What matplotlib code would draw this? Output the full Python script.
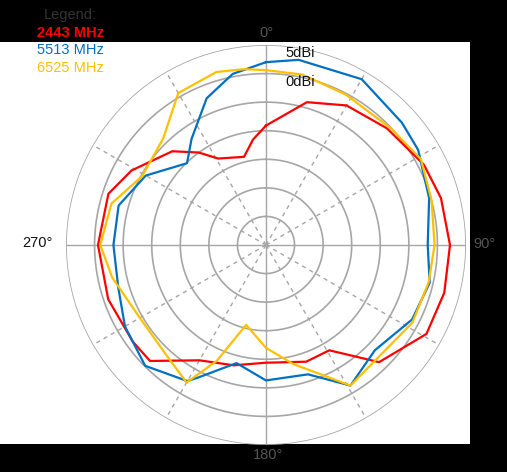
import numpy as np
import matplotlib.pyplot as plt

plt.rcParams['font.family'] = ['Liberation Sans', 'DejaVu Sans']

# angle (deg, clockwise from top) and gain (dBi)
ang_2443 = [0, 16, 30, 46, 63, 75, 90, 105, 119, 136, 149, 161, 180, 195, 210, 225, 234, 251, 270, 288, 299, 315, 324, 331, 346, 353, 360]
db_2443 = [-9.1, -4.0, -1.8, -0.6, 1.0, 1.7, 2.2, 2.3, 2.1, -1.5, -8.5, -8.4, -9.4, -8.2, -6.7, -1.3, -1.2, -0.8, -0.6, -1.0, -3.1, -6.8, -10.0, -12.7, -14.1, -11.4, -9.1]
ang_5513 = [0, 10, 30, 48, 58, 74, 90, 103, 117, 134, 149, 162, 180, 194, 207, 210, 225, 240, 254, 270, 285, 300, 316, 325, 338, 349, 360]
db_5513 = [2.0, 2.9, 3.5, 2.0, 1.4, -0.3, -1.7, -0.6, -1.3, -3.5, -1.3, -6.2, -6.3, -8.7, -4.0, -2.5, -0.1, -1.5, -3.1, -3.3, -3.3, -5.7, -10.1, -7.3, -2.3, 0.5, 2.0]
ang_6525 = [0, 12, 28, 47, 61, 75, 90, 103, 118, 133, 149, 167, 180, 194, 203, 210, 222, 240, 258, 270, 285, 299, 316, 330, 344, 353, 360]
db_6525 = [0.6, 0.5, -0.2, -0.1, 1.0, 0.0, -0.5, -0.8, -1.0, -2.2, -1.3, -8.6, -12.0, -15.6, -8.0, -2.2, -4.0, -4.5, -2.5, -1.0, -2.0, -5.2, -4.1, 0.7, 1.5, 1.0, 0.6]
series = [("2443 MHz", ang_2443, db_2443, "#ff0000"),
          ("5513 MHz", ang_5513, db_5513, "#0070c0"),
          ("6525 MHz", ang_6525, db_6525, "#ffc000")]
rings = [-25, -20, -15, -10, -5, 0, 5]

W, H = 507, 472
fig = plt.figure(figsize=(W / 100, H / 100), dpi=100, facecolor="black")
# white panel behind the polar plot
bg = fig.add_axes([0, 28 / H, 470 / W, 402 / H])
bg.set_facecolor("white")
bg.set_xticks([])
bg.set_yticks([])
for s in bg.spines.values():
    s.set_visible(False)

ax = fig.add_axes([66 / W, 27 / H, 400 / W, 400 / H], projection="polar")
ax.set_facecolor("none")
ax.set_theta_zero_location("N")
ax.set_theta_direction(-1)
ax.set_ylim(-30, 5)
ax.grid(False)
ax.set_xticks([])
ax.set_yticks([])
ax.spines["polar"].set_visible(False)

t = np.linspace(0, 2 * np.pi, 361)
for r in rings:
    ax.plot(t, np.full_like(t, r), color="#a6a6a6", lw=1.2, zorder=1)
for a in range(0, 360, 30):
    ls = "-" if a % 90 == 0 else (0, (3, 3))
    ax.plot([np.radians(a)] * 2, [-30, 5], color="#a6a6a6", lw=1.0, ls=ls, zorder=1)

for name, ang, db, c in series:
    ax.plot(np.radians(ang), db, color=c, lw=1.6, zorder=3)

ax.text(np.radians(6), 3.0, "5dBi", fontsize=10.5, color="#111", zorder=4)
ax.text(np.radians(7), -2.0, "0dBi", fontsize=10.5, color="#111", zorder=4)

fig.text(266 / W, 1 - 33 / H, "0°", ha="center", va="center", fontsize=10.5, color="#555")
fig.text(268 / W, 1 - 455 / H, "180°", ha="center", va="center", fontsize=10.5, color="#555")
fig.text(37 / W, 1 - 243 / H, "270°", ha="center", va="center", fontsize=10.5, color="#111")
fig.text(484 / W, 1 - 244 / H, "90°", ha="center", va="center", fontsize=10.5, color="#555")
fig.text(70 / W, 1 - 15 / H, "Legend:", ha="center", va="center", fontsize=10.5, color="#333")
for i, (name, ang, db, c) in enumerate(series):
    fig.text(37 / W, 1 - (33 + 17.5 * i) / H, name, ha="left", va="center", fontsize=10.5,
             color=c, fontweight="bold" if i == 0 else "normal")

fig.savefig("out.png", dpi=100, facecolor="black")
